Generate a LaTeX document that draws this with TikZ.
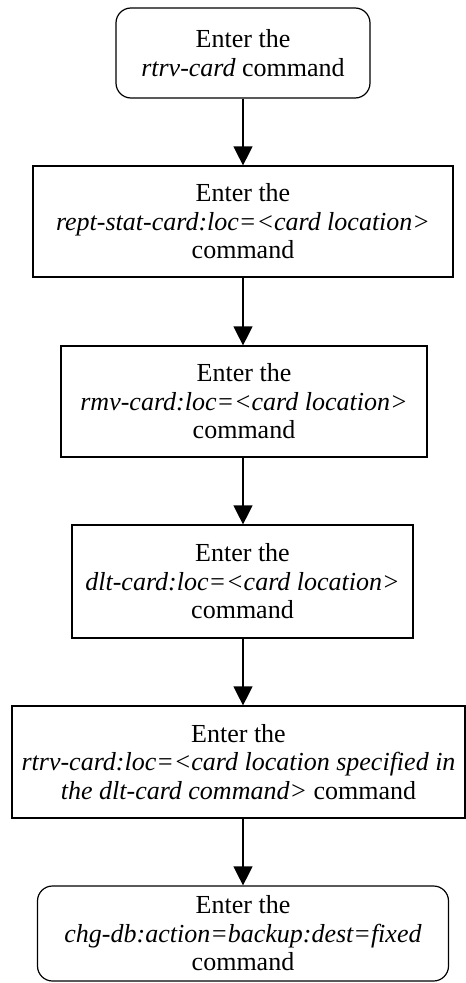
\documentclass[tikz,border=0pt]{standalone}
\usepackage{fontspec}
\setmainfont{Liberation Serif}
\usetikzlibrary{arrows.meta}

\tikzset{every picture/.style={line width=1.2pt}}
\tikzset{
  stepbox/.style={draw, rectangle, align=center, inner sep=0pt,
    font=\fontsize{26}{28.5}\selectfont},
  endbox/.style={stepbox, rounded corners=15pt},
  flow/.style={-{Triangle[length=19pt,width=19pt]}}
}

\begin{document}
\begin{tikzpicture}[x=1pt,y=1pt,yscale=-1]
\useasboundingbox (0,0) rectangle (466,983);

% Start
\node [endbox, minimum width=254pt, minimum height=90pt] (rtrv) at (243,53) {Enter the\\\textit{rtrv-card} command};
% Step 1
\node [stepbox, minimum width=420pt, minimum height=111pt] (rept) at (243,221.5) {Enter the\\\textit{rept-stat-card:loc=<card location>}\\command};
% Step 2
\node [stepbox, minimum width=366pt, minimum height=111pt] (rmv) at (244,401.5) {Enter the\\\textit{rmv-card:loc=<card location>}\\command};
% Step 3
\node [stepbox, minimum width=341pt, minimum height=113pt] (dlt) at (242.5,581.5) {Enter the\\\textit{dlt-card:loc=<card location>}\\command};
% Step 4
\node [stepbox, minimum width=453pt, minimum height=112pt] (check) at (238.5,762) {Enter the\\\textit{rtrv-card:loc=<card location specified in}\\\textit{the dlt-card command>} command};
% End
\node [endbox, minimum width=411pt, minimum height=95pt] (backup) at (243,933.5) {Enter the\\\textit{chg-db:action=backup:dest=fixed}\\command};

% Arrows
\draw [flow] (rtrv.south) -- (rtrv.south |- rept.north);
\draw [flow] (rept.south) -- (rept.south |- rmv.north);
\draw [flow] (rmv.south -| rtrv.south) -- (dlt.north -| rtrv.south);
\draw [flow] (dlt.south -| rtrv.south) -- (check.north -| rtrv.south);
\draw [flow] (check.south -| rtrv.south) -- (backup.north);

\end{tikzpicture}
\end{document}
